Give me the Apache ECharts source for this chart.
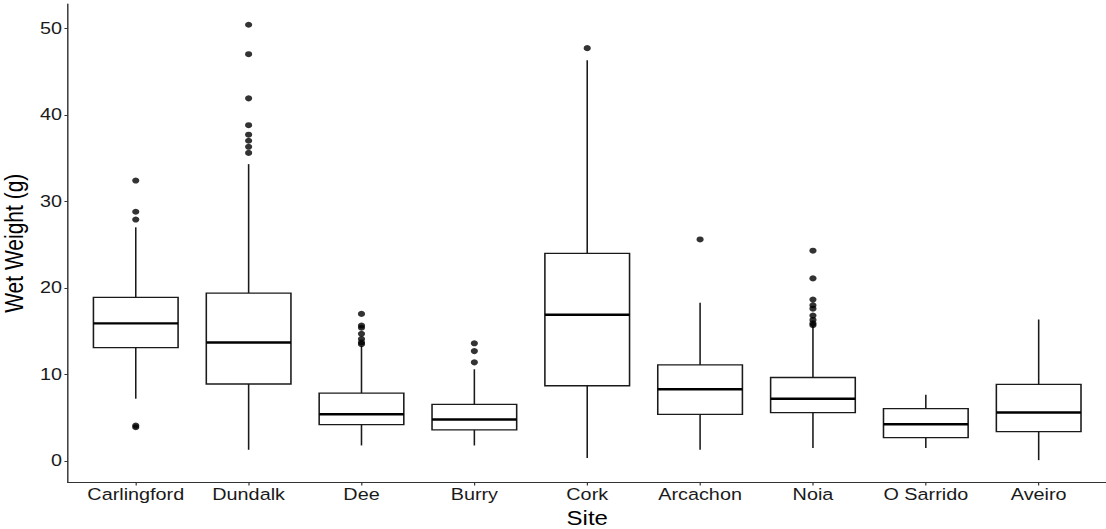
<!DOCTYPE html>
<html>
<head>
<meta charset="utf-8">
<script src="https://cdn.jsdelivr.net/npm/echarts@6/dist/echarts.min.js"></script>
<style>
  html, body { margin: 0; padding: 0; background: #fff; overflow: hidden; }
  /* the reference is stretched sideways, so the chart is drawn narrower and widened */
  #chart { width: 921.67px; height: 529px; transform: scaleX(1.2); transform-origin: 0 0; }
</style>
</head>
<body>
<div id="chart"></div>
<script>
// data
const sites = ['Carlingford', 'Dundalk', 'Dee', 'Burry', 'Cork', 'Arcachon', 'Noia', 'O Sarrido', 'Aveiro'];
const whiskerLow  = [7.2, 1.3, 1.8, 1.8, 0.35, 1.3, 1.5, 1.5, 0.1];
const q1          = [13.1, 8.9, 4.2, 3.6, 8.7, 5.4, 5.6, 2.7, 3.4];
const median      = [15.9, 13.7, 5.4, 4.8, 16.9, 8.3, 7.2, 4.25, 5.6];
const q3          = [18.9, 19.4, 7.85, 6.55, 24.0, 11.1, 9.65, 6.05, 8.85];
const whiskerHigh = [27.0, 34.3, 13.3, 10.6, 46.3, 18.3, 15.6, 7.65, 16.35];
const outliers = [
  [32.4, 28.8, 27.9, 4.1, 3.9],
  [50.4, 47.0, 41.9, 38.8, 37.7, 37.0, 36.3, 35.6],
  [17.0, 15.65, 15.4, 14.7, 14.1, 13.7, 13.5],
  [13.6, 12.7, 11.4],
  [47.7],
  [25.6],
  [24.3, 21.1, 18.65, 18.0, 17.6, 16.8, 16.3, 15.9, 15.7],
  [],
  []
];
const yTicks = [0, 10, 20, 30, 40, 50];

const boxData = sites.map((s, i) => [i, whiskerLow[i], q1[i], median[i], q3[i], whiskerHigh[i]]);
const outlierData = [];
outliers.forEach((vals, i) => vals.forEach(v => outlierData.push([i, v])));

const lineCol = '#1a1a1a';

function renderBox(params, api) {
  const x = api.value(0);
  const half = api.size([0.75, 0], [x, 0])[0] / 2;
  const lo = api.coord([x, api.value(1)]);
  const b1 = api.coord([x, api.value(2)]);
  const md = api.coord([x, api.value(3)]);
  const b3 = api.coord([x, api.value(4)]);
  const hi = api.coord([x, api.value(5)]);
  const ls = { stroke: lineCol, lineWidth: 1.3 };
  return {
    type: 'group',
    children: [
      { type: 'line', shape: { x1: hi[0], y1: hi[1], x2: b3[0], y2: b3[1] }, style: ls },
      { type: 'line', shape: { x1: b1[0], y1: b1[1], x2: lo[0], y2: lo[1] }, style: ls },
      { type: 'rect', shape: { x: b3[0] - half, y: b3[1], width: half * 2, height: b1[1] - b3[1] },
        style: { fill: '#fff', stroke: lineCol, lineWidth: 1.3 } },
      { type: 'line', shape: { x1: md[0] - half, y1: md[1], x2: md[0] + half, y2: md[1] },
        style: { stroke: '#000', lineWidth: 2.4 } }
    ]
  };
}

const chart = echarts.init(document.getElementById('chart'), null, { renderer: 'svg' });
chart.setOption({
  animation: false,
  backgroundColor: '#fff',
  textStyle: { fontFamily: 'Liberation Sans, Arial, sans-serif' },
  grid: { left: 56.7, right: 0, top: 4, bottom: 46.5, outerBoundsMode: 'none' },
  xAxis: {
    type: 'value',
    min: -0.6,
    max: 8.6,
    name: 'Site',
    nameLocation: 'middle',
    nameGap: 25,
    nameTextStyle: { fontSize: 20, color: '#000' },
    axisLine: { show: true, onZero: false, lineStyle: { color: '#333', width: 1.2 } },
    axisTick: { show: true, length: 3, customValues: sites.map((s, i) => i), lineStyle: { color: '#333' } },
    axisLabel: {
      customValues: sites.map((s, i) => i),
      formatter: v => sites[Math.round(v)],
      fontSize: 16.5, color: '#1a1a1a', margin: 4
    },
    splitLine: { show: false }
  },
  yAxis: {
    type: 'value',
    min: -2.48,
    max: 52.8,
    name: 'Wet Weight (g)',
    nameLocation: 'middle',
    nameGap: 23,
    nameTextStyle: { fontSize: 21, color: '#000' },
    axisLine: { show: true, onZero: false, lineStyle: { color: '#333', width: 1.2 } },
    axisTick: { show: true, length: 3, customValues: yTicks, lineStyle: { color: '#333' } },
    axisLabel: { customValues: yTicks, fontSize: 16.5, color: '#1a1a1a', margin: 5 },
    splitLine: { show: false }
  },
  series: [
    {
      type: 'custom',
      data: boxData,
      encode: { x: 0, y: [1, 2, 3, 4, 5] },
      renderItem: renderBox,
      silent: true
    },
    {
      type: 'scatter',
      data: outlierData,
      symbol: 'circle',
      symbolSize: 6,
      itemStyle: { color: '#000' },
      silent: true
    }
  ]
});
</script>
</body>
</html>
